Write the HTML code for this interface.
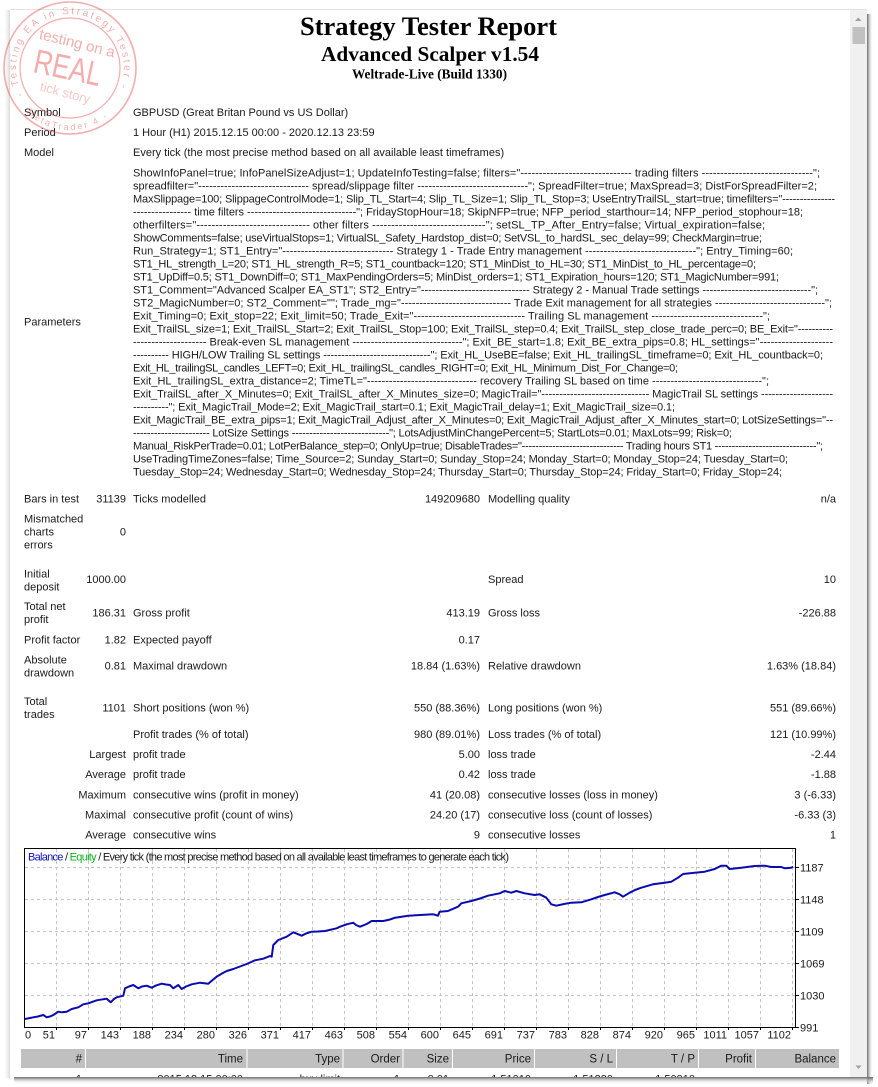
<!DOCTYPE html>
<html><head><meta charset="utf-8"><style>
html,body{margin:0;padding:0;background:#fff;}
svg{display:block;}
.t{font-family:"Liberation Sans",sans-serif;font-size:11px;fill:#1a1a1a;}
.r{text-anchor:end;}
.s{font-family:"Liberation Serif",serif;font-weight:bold;fill:#000;}
</style></head><body>
<svg width="878" height="1087" viewBox="0 0 878 1087" xmlns="http://www.w3.org/2000/svg">
<defs>
<linearGradient id="shR" x1="0" x2="1" y1="0" y2="0"><stop offset="0" stop-color="#6a6a6a"/><stop offset="1" stop-color="#fff" stop-opacity="0"/></linearGradient>
<linearGradient id="shB" x1="0" x2="0" y1="0" y2="1"><stop offset="0" stop-color="#6a6a6a"/><stop offset="1" stop-color="#fff" stop-opacity="0"/></linearGradient>
<linearGradient id="shL" x1="1" x2="0" y1="0" y2="0"><stop offset="0" stop-color="#d8d8d8"/><stop offset="1" stop-color="#fff" stop-opacity="0"/></linearGradient>
<clipPath id="win"><rect x="10" y="10" width="840" height="1067"/></clipPath>
</defs>
<rect width="878" height="1087" fill="#fff"/>
<!-- shadows -->
<rect x="867" y="14" width="6" height="1070" fill="url(#shR)"/>
<rect x="14" y="1077" width="859" height="7" fill="url(#shB)"/>
<rect x="3" y="10" width="7" height="1068" fill="url(#shL)"/>
<!-- window -->
<rect x="10" y="10" width="857" height="1067" fill="#fff"/>
<line x1="10" y1="9.5" x2="867" y2="9.5" stroke="#e2e2e2"/>
<!-- scrollbar -->
<rect x="850" y="10" width="17" height="1067" fill="#f0f0f0"/>
<polygon points="855,21 861.5,21 858.25,17.5" fill="#a0a0a0"/>
<rect x="852.5" y="27" width="12.5" height="17" fill="#c1c1c1"/>
<polygon points="855.5,1065.5 861.5,1065.5 858.5,1069" fill="#a0a0a0"/>

<!-- titles -->
<text class="s" x="300" y="35" font-size="26.5" textLength="257" lengthAdjust="spacingAndGlyphs">Strategy Tester Report</text>
<text class="s" x="321" y="61" font-size="21.5" textLength="218" lengthAdjust="spacingAndGlyphs">Advanced Scalper v1.54</text>
<text class="s" x="352" y="78.5" font-size="13.5" textLength="155" lengthAdjust="spacingAndGlyphs">Weltrade-Live (Build 1330)</text>

<!-- header rows -->
<text class="t" x="24" y="116">Symbol</text>
<text class="t" x="133" y="116">GBPUSD (Great Britan Pound vs US Dollar)</text>
<text class="t" x="24" y="136">Period</text>
<text class="t" x="133" y="136">1 Hour (H1) 2015.12.15 00:00 - 2020.12.13 23:59</text>
<text class="t" x="24" y="156">Model</text>
<text class="t" x="133" y="156">Every tick (the most precise method based on all available least timeframes)</text>
<text class="t" x="24" y="325.5">Parameters</text>

<g class="t">
<text x="133" y="176.3" textLength="687" lengthAdjust="spacing">ShowInfoPanel=true; InfoPanelSizeAdjust=1; UpdateInfoTesting=false; filters="------------------------------ trading filters ------------------------------";</text>
<text x="133" y="189.3" textLength="684" lengthAdjust="spacing">spreadfilter="------------------------------ spread/slippage filter ------------------------------"; SpreadFilter=true; MaxSpread=3; DistForSpreadFilter=2;</text>
<text x="133" y="202.3" textLength="702" lengthAdjust="spacing">MaxSlippage=100; SlippageControlMode=1; Slip_TL_Start=4; Slip_TL_Size=1; Slip_TL_Stop=3; UseEntryTrailSL_start=true; timefilters="---------------</text>
<text x="133" y="215.3" textLength="670" lengthAdjust="spacing">---------------- time filters ------------------------------"; FridayStopHour=18; SkipNFP=true; NFP_period_starthour=14; NFP_period_stophour=18;</text>
<text x="133" y="228.3" textLength="632" lengthAdjust="spacing">otherfilters="------------------------------ other filters ------------------------------"; setSL_TP_After_Entry=false; Virtual_expiration=false;</text>
<text x="133" y="241.3" textLength="629" lengthAdjust="spacing">ShowComments=false; useVirtualStops=1; VirtualSL_Safety_Hardstop_dist=0; SetVSL_to_hardSL_sec_delay=99; CheckMargin=true;</text>
<text x="133" y="254.3" textLength="660" lengthAdjust="spacing">Run_Strategy=1; ST1_Entry="------------------------------ Strategy 1 - Trade Entry management ------------------------------"; Entry_Timing=60;</text>
<text x="133" y="267.3" textLength="623" lengthAdjust="spacing">ST1_HL_strength_L=20; ST1_HL_strength_R=5; ST1_countback=120; ST1_MinDist_to_HL=30; ST1_MinDist_to_HL_percentage=0;</text>
<text x="133" y="280.3" textLength="646" lengthAdjust="spacing">ST1_UpDiff=0.5; ST1_DownDiff=0; ST1_MaxPendingOrders=5; MinDist_orders=1; ST1_Expiration_hours=120; ST1_MagicNumber=991;</text>
<text x="133" y="293.3" textLength="685" lengthAdjust="spacing">ST1_Comment="Advanced Scalper EA_ST1"; ST2_Entry="------------------------------ Strategy 2 - Manual Trade settings ------------------------------";</text>
<text x="133" y="306.3" textLength="699" lengthAdjust="spacing">ST2_MagicNumber=0; ST2_Comment=""; Trade_mg="------------------------------ Trade Exit management for all strategies ------------------------------";</text>
<text x="133" y="319.3" textLength="637" lengthAdjust="spacing">Exit_Timing=0; Exit_stop=22; Exit_limit=50; Trade_Exit="------------------------------ Trailing SL management ------------------------------";</text>
<text x="133" y="332.3" textLength="700" lengthAdjust="spacing">Exit_TrailSL_size=1; Exit_TrailSL_Start=2; Exit_TrailSL_Stop=100; Exit_TrailSL_step=0.4; Exit_TrailSL_step_close_trade_perc=0; BE_Exit="----------</text>
<text x="133" y="345.3" textLength="700" lengthAdjust="spacing">-------------------- Break-even SL management ------------------------------"; Exit_BE_start=1.8; Exit_BE_extra_pips=0.8; HL_settings="--------------------</text>
<text x="133" y="358.3" textLength="690" lengthAdjust="spacing">---------- HIGH/LOW Trailing SL settings ------------------------------"; Exit_HL_UseBE=false; Exit_HL_trailingSL_timeframe=0; Exit_HL_countback=0;</text>
<text x="133" y="371.3" textLength="545" lengthAdjust="spacing">Exit_HL_trailingSL_candles_LEFT=0; Exit_HL_trailingSL_candles_RIGHT=0; Exit_HL_Minimum_Dist_For_Change=0;</text>
<text x="133" y="384.3" textLength="636" lengthAdjust="spacing">Exit_HL_trailingSL_extra_distance=2; TimeTL="------------------------------ recovery Trailing SL based on time ------------------------------";</text>
<text x="133" y="397.3" textLength="700" lengthAdjust="spacing">Exit_TrailSL_after_X_Minutes=0; Exit_TrailSL_after_X_Minutes_size=0; MagicTrail="------------------------------ MagicTrail SL settings --------------------</text>
<text x="133" y="410.3" textLength="542" lengthAdjust="spacing">----------"; Exit_MagicTrail_Mode=2; Exit_MagicTrail_start=0.1; Exit_MagicTrail_delay=1; Exit_MagicTrail_size=0.1;</text>
<text x="133" y="423.3" textLength="700" lengthAdjust="spacing">Exit_MagicTrail_BE_extra_pips=1; Exit_MagicTrail_Adjust_after_X_Minutes=0; Exit_MagicTrail_Adjust_after_X_Minutes_start=0; LotSizeSettings="--</text>
<text x="133" y="436.3" textLength="599" lengthAdjust="spacing">---------------------- LotSize Settings ----------------------------"; LotsAdjustMinChangePercent=5; StartLots=0.01; MaxLots=99; Risk=0;</text>
<text x="133" y="449.3" textLength="690" lengthAdjust="spacing">Manual_RiskPerTrade=0.01; LotPerBalance_step=0; OnlyUp=true; DisableTrades="------------------------------ Trading hours ST1 ------------------------------";</text>
<text x="133" y="462.3" textLength="655" lengthAdjust="spacing">UseTradingTimeZones=false; Time_Source=2; Sunday_Start=0; Sunday_Stop=24; Monday_Start=0; Monday_Stop=24; Tuesday_Start=0;</text>
<text x="133" y="475.3" textLength="649" lengthAdjust="spacing">Tuesday_Stop=24; Wednesday_Start=0; Wednesday_Stop=24; Thursday_Start=0; Thursday_Stop=24; Friday_Start=0; Friday_Stop=24;</text>
</g>

<!-- stats -->
<g class="t">
<text x="24" y="502.3">Bars in test</text>
<text class="r" x="126" y="502.3">31139</text>
<text x="133" y="502.3">Ticks modelled</text>
<text class="r" x="480" y="502.3">149209680</text>
<text x="488" y="502.3">Modelling quality</text>
<text class="r" x="836" y="502.3">n/a</text>

<text x="24" y="522.3">Mismatched</text>
<text x="24" y="535.3">charts</text>
<text x="24" y="548.3">errors</text>
<text class="r" x="126" y="535.3">0</text>

<text x="24" y="577.3">Initial</text>
<text x="24" y="590.7">deposit</text>
<text class="r" x="126" y="583">1000.00</text>
<text x="488" y="583">Spread</text>
<text class="r" x="836" y="583">10</text>

<text x="24" y="610">Total net</text>
<text x="24" y="623">profit</text>
<text class="r" x="126" y="616.7">186.31</text>
<text x="133" y="616.7">Gross profit</text>
<text class="r" x="480" y="616.7">413.19</text>
<text x="488" y="616.7">Gross loss</text>
<text class="r" x="836" y="616.7">-226.88</text>

<text x="24" y="643.3">Profit factor</text>
<text class="r" x="126" y="643.3">1.82</text>
<text x="133" y="643.3">Expected payoff</text>
<text class="r" x="480" y="643.3">0.17</text>

<text x="24" y="663.3">Absolute</text>
<text x="24" y="676.3">drawdown</text>
<text class="r" x="126" y="669.7">0.81</text>
<text x="133" y="669.7">Maximal drawdown</text>
<text class="r" x="480" y="669.7">18.84 (1.63%)</text>
<text x="488" y="669.7">Relative drawdown</text>
<text class="r" x="836" y="669.7">1.63% (18.84)</text>

<text x="24" y="705">Total</text>
<text x="24" y="718">trades</text>
<text class="r" x="126" y="711.3">1101</text>
<text x="133" y="711.3">Short positions (won %)</text>
<text class="r" x="480" y="711.3">550 (88.36%)</text>
<text x="488" y="711.3">Long positions (won %)</text>
<text class="r" x="836" y="711.3">551 (89.66%)</text>

<text x="133" y="738">Profit trades (% of total)</text>
<text class="r" x="480" y="738">980 (89.01%)</text>
<text x="488" y="738">Loss trades (% of total)</text>
<text class="r" x="836" y="738">121 (10.99%)</text>

<text class="r" x="126" y="758">Largest</text>
<text x="133" y="758">profit trade</text>
<text class="r" x="480" y="758">5.00</text>
<text x="488" y="758">loss trade</text>
<text class="r" x="836" y="758">-2.44</text>

<text class="r" x="126" y="778">Average</text>
<text x="133" y="778">profit trade</text>
<text class="r" x="480" y="778">0.42</text>
<text x="488" y="778">loss trade</text>
<text class="r" x="836" y="778">-1.88</text>

<text class="r" x="126" y="798.3">Maximum</text>
<text x="133" y="798.3">consecutive wins (profit in money)</text>
<text class="r" x="480" y="798.3">41 (20.08)</text>
<text x="488" y="798.3">consecutive losses (loss in money)</text>
<text class="r" x="836" y="798.3">3 (-6.33)</text>

<text class="r" x="126" y="818.3">Maximal</text>
<text x="133" y="818.3">consecutive profit (count of wins)</text>
<text class="r" x="480" y="818.3">24.20 (17)</text>
<text x="488" y="818.3">consecutive loss (count of losses)</text>
<text class="r" x="836" y="818.3">-6.33 (3)</text>

<text class="r" x="126" y="838.3">Average</text>
<text x="133" y="838.3">consecutive wins</text>
<text class="r" x="480" y="838.3">9</text>
<text x="488" y="838.3">consecutive losses</text>
<text class="r" x="836" y="838.3">1</text>
</g>

<!-- chart -->
<g stroke="#c4c4c4" stroke-width="1" stroke-dasharray="3,3" fill="none">
<path d="M25 867.5H795M25 899.5H795M25 931.5H795M25 963.5H795M25 995.5H795"/>
<path d="M56.5 849V1027M88.5 849V1027M120.5 849V1027M152.5 849V1027M184.5 849V1027M216.5 849V1027M248.5 849V1027M280.5 849V1027M312.5 849V1027M344.5 849V1027M376.5 849V1027M408.5 849V1027M440.5 849V1027M472.5 849V1027M504.5 849V1027M536.5 849V1027M568.5 849V1027M600.5 849V1027M632.5 849V1027M664.5 849V1027M696.5 849V1027M728.5 849V1027M760.5 849V1027M792.5 849V1027"/>
</g>
<rect x="24.5" y="848.5" width="771" height="179" fill="none" stroke="#000" stroke-width="1"/>
<g stroke="#000" stroke-width="1">
<path d="M795 867.5h4M795 899.5h4M795 931.5h4M795 963.5h4M795 995.5h4M795 1027.5h4"/>
<path d="M56.5 1027v3M88.5 1027v3M120.5 1027v3M152.5 1027v3M184.5 1027v3M216.5 1027v3M248.5 1027v3M280.5 1027v3M312.5 1027v3M344.5 1027v3M376.5 1027v3M408.5 1027v3M440.5 1027v3M472.5 1027v3M504.5 1027v3M536.5 1027v3M568.5 1027v3M600.5 1027v3M632.5 1027v3M664.5 1027v3M696.5 1027v3M728.5 1027v3M760.5 1027v3M792.5 1027v3"/>
</g>
<text class="t" x="28" y="860.5" textLength="481" lengthAdjust="spacing"><tspan fill="#1010c0">Balance</tspan> / <tspan fill="#10b020">Equity</tspan> / Every tick (the most precise method based on all available least timeframes to generate each tick)</text>

<polyline fill="none" stroke="#0a0ab0" stroke-width="2" stroke-linejoin="round" points="25,1019 30,1018 33.3,1017.3 38,1016.5 43.3,1015 46.7,1017.3 50,1016.5 53.3,1015 58.3,1011.7 62,1012.3 66.7,1011.7 71.7,1009 78.3,1007.3 83.3,1004.3 88.3,1003.3 96.7,1000.3 106.7,998.7 110.7,1002.3 114,999 116.7,997.3 123.3,995.7 125,988.3 129,986.5 133.3,985 138.3,988.3 142,986.5 146.7,985.7 151.7,987.7 156,985.5 161.7,983.7 166,984.5 170,985 173.3,988.3 178.3,985 181.7,989 186,986.5 191.7,984.3 200,982.7 208.3,983.7 212,980.5 216.7,976.7 222,973.5 226.7,971 233.3,969 240,966.5 246.7,964 255,960.3 263.3,958.7 270,956 271.7,956.7 273.3,945 278.3,940 286.7,936.7 293.3,932.3 298.3,934.3 301.7,935.7 306,933.5 311.7,931.7 318,931.5 325,931 336.7,928.3 340,926.7 346.7,924.3 353.3,922.7 356,925 360,926.7 366.7,924 371.7,921 383.3,921 390,919.5 395,917.7 408.3,915.7 420,915 433.3,914.3 438,915.7 439.7,911.7 448,911 458,906.7 461.3,903.3 471.3,901 480,898.5 488,895.7 499.7,893.3 504.7,891 511.3,892.7 516.3,891 524.7,893.3 534.7,895 539.7,894.3 546.3,897.7 551.3,904.3 556.3,905.7 564,904 571.3,902.7 581.3,902.3 591.3,899.3 598,897 604.7,895 614.7,892.3 619.7,894.3 623,896.7 629.7,892.7 635,890 641.3,887.7 653,884.3 664.7,882.7 671.3,881.7 678,877.7 683,874 694.7,872.7 704.7,871.7 714.7,869 721.3,865.7 726.3,865.7 729.7,869 741.3,867.7 754.7,866 764.7,865.7 771.3,867 781.3,867 784.7,868.3 791.3,867.7 793,866.7"/>

<g class="t">
<text x="800" y="871.3">1187</text>
<text x="800" y="903.3">1148</text>
<text x="800" y="935.3">1109</text>
<text x="800" y="967.3">1069</text>
<text x="800" y="999.3">1030</text>
<text x="800" y="1031.3">991</text>
</g>
<g class="t r">
<text x="25" y="1038.3" style="text-anchor:start">0</text>
<text x="55" y="1038.3">51</text>
<text x="87" y="1038.3">97</text>
<text x="119" y="1038.3">143</text>
<text x="151" y="1038.3">188</text>
<text x="183" y="1038.3">234</text>
<text x="215" y="1038.3">280</text>
<text x="247" y="1038.3">326</text>
<text x="279" y="1038.3">371</text>
<text x="311" y="1038.3">417</text>
<text x="343" y="1038.3">463</text>
<text x="375" y="1038.3">508</text>
<text x="407" y="1038.3">554</text>
<text x="439" y="1038.3">600</text>
<text x="471" y="1038.3">645</text>
<text x="503" y="1038.3">691</text>
<text x="535" y="1038.3">737</text>
<text x="567" y="1038.3">783</text>
<text x="599" y="1038.3">828</text>
<text x="631" y="1038.3">874</text>
<text x="663" y="1038.3">920</text>
<text x="695" y="1038.3">965</text>
<text x="727" y="1038.3">1011</text>
<text x="759" y="1038.3">1057</text>
<text x="791" y="1038.3">1102</text>
</g>

<!-- trades table header -->
<g fill="#c0c0c0">
<rect x="21" y="1049" width="64" height="19"/>
<rect x="86" y="1049" width="160.5" height="19"/>
<rect x="247.5" y="1049" width="95" height="19"/>
<rect x="343.5" y="1049" width="59" height="19"/>
<rect x="403.5" y="1049" width="48.5" height="19"/>
<rect x="453" y="1049" width="81" height="19"/>
<rect x="535" y="1049" width="81" height="19"/>
<rect x="617" y="1049" width="81" height="19"/>
<rect x="699" y="1049" width="56" height="19"/>
<rect x="756" y="1049" width="83" height="19"/>
</g>
<g class="t r" style="font-size:11.5px">
<text x="82" y="1062.5">#</text>
<text x="243" y="1062.5">Time</text>
<text x="340" y="1062.5">Type</text>
<text x="400" y="1062.5">Order</text>
<text x="449" y="1062.5">Size</text>
<text x="531" y="1062.5">Price</text>
<text x="613" y="1062.5">S / L</text>
<text x="695" y="1062.5">T / P</text>
<text x="752" y="1062.5">Profit</text>
<text x="836" y="1062.5">Balance</text>
</g>
<g clip-path="url(#win)" class="t r">
<text x="82" y="1082.5">1</text>
<text x="243" y="1082.5">2015.12.15 00:00</text>
<text x="340" y="1082.5">buy limit</text>
<text x="400" y="1082.5">1</text>
<text x="449" y="1082.5">0.01</text>
<text x="531" y="1082.5">1.51010</text>
<text x="613" y="1082.5">1.51220</text>
<text x="695" y="1082.5">1.50910</text>
</g>
<rect x="10" y="1077" width="857" height="10" fill="#fff"/>
<rect x="14" y="1077" width="859" height="7" fill="url(#shB)"/>

<!-- stamp -->
<defs>
<path id="arcTop" d="M23.2,95 A54,54 0 1 1 116.8,95"/>
<path id="arcBot" d="M22.5,107.9 A62,62 0 0 0 117.5,107.9"/>
</defs>
<g opacity="0.42" fill="#e83c3c" stroke="none">
<circle cx="70" cy="68" r="66" fill="none" stroke="#e83c3c" stroke-width="1.6"/>
<circle cx="70" cy="68" r="50" fill="none" stroke="#e83c3c" stroke-width="1.2"/>
<text font-family="Liberation Sans,sans-serif" font-size="10" letter-spacing="2.4"><textPath href="#arcTop">- Testing EA in Strategy Tester -</textPath></text>
<text font-family="Liberation Sans,sans-serif" font-size="9" letter-spacing="2.2"><textPath href="#arcBot" startOffset="6">MetaTrader 4 -</textPath></text>
<text font-family="Liberation Sans,sans-serif" font-size="15" transform="translate(76,48) rotate(14)" text-anchor="middle">testing on a</text>
<text font-family="Liberation Sans,sans-serif" font-size="34" transform="translate(32,72) rotate(12)" textLength="68" lengthAdjust="spacingAndGlyphs">REAL</text>
<text font-family="Liberation Sans,sans-serif" font-size="13" opacity="0.7" transform="translate(64,97) rotate(15)" text-anchor="middle">tick story</text>
</g>
</svg>
</body></html>
